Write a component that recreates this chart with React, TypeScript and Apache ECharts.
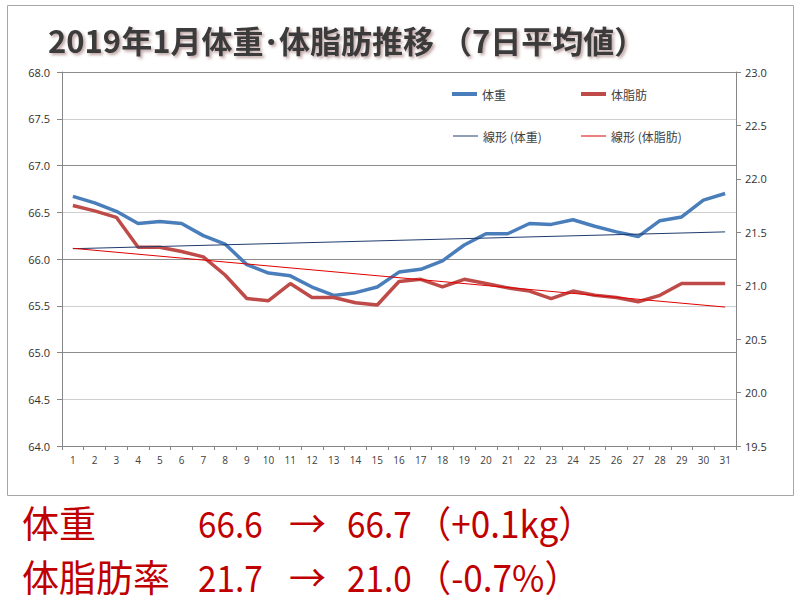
import React, { useEffect, useRef } from 'react';
import * as echarts from 'echarts';

const days = ['1','2','3','4','5','6','7','8','9','10','11','12','13','14','15','16','17','18','19','20','21','22','23','24','25','26','27','28','29','30','31'];

const weight = [66.67, 66.60, 66.51, 66.38, 66.40, 66.38, 66.25, 66.16, 65.94, 65.85, 65.82, 65.70, 65.61, 65.64, 65.70, 65.86, 65.89, 65.98, 66.15, 66.27, 66.27, 66.38, 66.37, 66.42, 66.35, 66.29, 66.24, 66.41, 66.45, 66.63, 66.70];

const bodyFat = [21.75, 21.70, 21.64, 21.36, 21.36, 21.32, 21.27, 21.10, 20.88, 20.86, 21.02, 20.89, 20.89, 20.84, 20.82, 21.04, 21.06, 20.99, 21.06, 21.02, 20.98, 20.95, 20.88, 20.95, 20.91, 20.89, 20.85, 20.91, 21.02, 21.02, 21.02];

// trend line end points (day 1, day 31)
const weightTrendEnds = [66.11, 66.29];
const fatTrendEnds = [21.35, 20.80];

const titleText = '2019年1月体重･体脂肪推移 （7日平均値）';
const seriesNames = ['体重', '体脂肪', '線形 (体重)', '線形 (体脂肪)'];

const summaryLabels = ['体重', '体脂肪率'];
const summaryFrom = ['66.6', '21.7'];
const summaryTo = ['66.7', '21.0'];
const summaryDiff = ['（+0.1kg）', '（-0.7%）'];

function trendData(ends: number[]) {
  const arr: (number | null)[] = days.map(() => null);
  arr[0] = ends[0];
  arr[days.length - 1] = ends[1];
  return arr;
}

const FONT = '"Noto Sans CJK JP", "Noto Sans", sans-serif';
const AXIS_FONT = '"Open Sans", "Noto Sans", sans-serif';
const RED = '#C00000';

export default function App() {
  const ref = useRef<HTMLDivElement>(null);
  useEffect(() => {
    if (!ref.current) return;
    const chart = echarts.init(ref.current, null, { renderer: 'svg' });
    const legendBase = {
      orient: 'horizontal',
      itemWidth: 25,
      itemGap: 5,
      padding: 0,
      icon: 'rect',
      textStyle: { fontSize: 12, lineHeight: 14, color: '#404040', fontFamily: FONT },
      selectedMode: false,
    };
    const summaryGraphics: any[] = [];
    summaryLabels.forEach((lab, i) => {
      const y = 522 + i * 54;
      const piece = (t: string, x: number, sx: number) => ({
        type: 'text', x, y, scaleX: sx,
        style: { text: t, fill: RED, fontSize: 37, fontFamily: FONT, textVerticalAlign: 'middle', textAlign: 'left' },
      });
      summaryGraphics.push(piece(lab, 22, 1));
      summaryGraphics.push(piece(summaryFrom[i], 198, 0.9));
      summaryGraphics.push(piece('→', 289, 1));
      summaryGraphics.push(piece(summaryTo[i], 347, 0.9));
      summaryGraphics.push(piece(summaryDiff[i], 416, 0.95));
    });
    chart.setOption({
      animation: false,
      backgroundColor: '#ffffff',
      grid: { left: 62, right: 64, top: 72, bottom: 160, containLabel: false },
      legend: [
        { ...legendBase, data: [seriesNames[0]], left: 452, top: 87, itemHeight: 4 },
        { ...legendBase, data: [seriesNames[1]], left: 581, top: 87, itemHeight: 4 },
        { ...legendBase, data: [seriesNames[2]], left: 453, top: 129, itemHeight: 1 },
        { ...legendBase, data: [seriesNames[3]], left: 581, top: 129, itemHeight: 1 },
      ],
      xAxis: {
        type: 'category',
        data: days,
        boundaryGap: true,
        axisLine: { lineStyle: { color: '#868686' } },
        axisTick: { show: true, length: 4, lineStyle: { color: '#868686' } },
        axisLabel: { fontSize: 10, color: '#404040', fontFamily: AXIS_FONT, margin: 9, interval: 0 },
      },
      yAxis: [
        {
          type: 'value', min: 64, max: 68, interval: 0.5,
          axisLine: { show: true, lineStyle: { color: '#868686' } },
          axisTick: { show: true, length: 5, lineStyle: { color: '#868686' } },
          axisLabel: { fontSize: 11, color: '#303030', fontFamily: AXIS_FONT, margin: 12, formatter: (v: number) => v.toFixed(1) },
          splitLine: { show: true, lineStyle: { color: ['#8c8c8c', '#cfcfcf'], width: 1 } },
        },
        {
          type: 'value', min: 19.5, max: 23, interval: 0.5, position: 'right',
          axisLine: { show: true, lineStyle: { color: '#868686' } },
          axisTick: { show: true, length: 5, lineStyle: { color: '#868686' } },
          axisLabel: { fontSize: 11, color: '#303030', fontFamily: AXIS_FONT, margin: 9, formatter: (v: number) => v.toFixed(1) },
          splitLine: { show: false },
        },
      ],
      series: [
        {
          name: seriesNames[0], type: 'line', data: weight, yAxisIndex: 0,
          symbol: 'none', lineStyle: { color: '#4A7EBB', width: 3.5 }, itemStyle: { color: '#4A7EBB' },
        },
        {
          name: seriesNames[1], type: 'line', data: bodyFat, yAxisIndex: 1,
          symbol: 'none', lineStyle: { color: '#BE4B48', width: 3.5 }, itemStyle: { color: '#BE4B48' },
        },
        {
          name: seriesNames[2], type: 'line', data: trendData(weightTrendEnds), yAxisIndex: 0, connectNulls: true,
          symbol: 'none', lineStyle: { color: '#1F3B6E', width: 1 }, itemStyle: { color: '#1F3B6E' },
        },
        {
          name: seriesNames[3], type: 'line', data: trendData(fatTrendEnds), yAxisIndex: 1, connectNulls: true,
          symbol: 'none', lineStyle: { color: '#E00000', width: 1 }, itemStyle: { color: '#E00000' },
        },
      ],
      graphic: [
        {
          type: 'rect', shape: { x: 7.5, y: 5.5, width: 786, height: 490 },
          style: { fill: 'none', stroke: '#a6a6a6', lineWidth: 1 }, silent: true,
        },
        {
          type: 'text', x: 48, y: 39,
          style: {
            text: titleText, fill: '#3a3a3a', fontSize: 31, fontWeight: 'bold', fontFamily: FONT,
            textVerticalAlign: 'middle', textAlign: 'left',
            textShadowColor: 'rgba(110,50,50,0.45)', textShadowBlur: 3, textShadowOffsetX: 2, textShadowOffsetY: 2,
          },
        },
        ...summaryGraphics,
      ],
    });
    return () => chart.dispose();
  }, []);
  return (
    <div
      ref={ref}
      style={{ position: 'fixed', left: 0, top: 0, width: 800, height: 606, background: '#fff' }}
    />
  );
}
